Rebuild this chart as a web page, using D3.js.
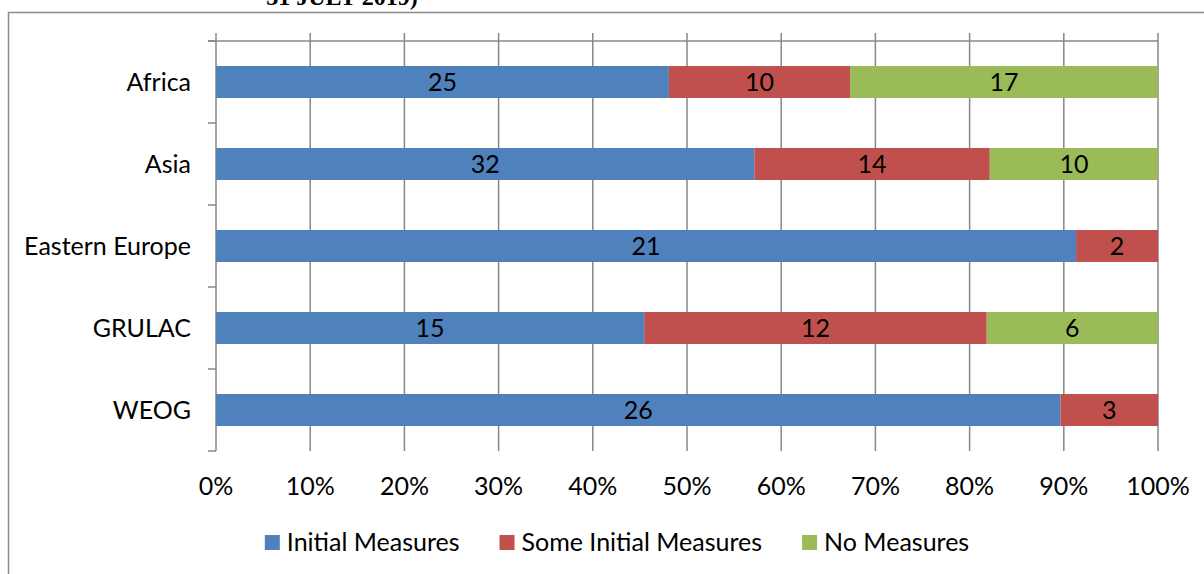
<!DOCTYPE html>
<html><head><meta charset="utf-8">
<script src="https://cdn.jsdelivr.net/npm/d3@7"></script>
<style>html,body{margin:0;padding:0;background:#fff;}svg{display:block;}</style>
</head><body>
<svg id="c" width="1204" height="574"></svg>
<script>
const categories = ["Africa","Asia","Eastern Europe","GRULAC","WEOG"];
const seriesNames = ["Initial Measures","Some Initial Measures","No Measures"];
const initialMeasures = [25,32,21,15,26];
const someInitialMeasures = [10,14,2,12,3];
const noMeasures = [17,10,0,6,0];
const xTicks = [0,0.1,0.2,0.3,0.4,0.5,0.6,0.7,0.8,0.9,1];
const titleText = "31 JULY 2019)";
const colors = ["#4F81BD","#C0504D","#9BBB59"];

const FONT = "Lato, 'Open Sans', sans-serif";
const FS = 25;
const svg = d3.select("#c");

// frame
svg.append("rect").attr("x",8.5).attr("y",12.5).attr("width",1230).attr("height",600)
  .attr("fill","none").attr("stroke","#8a8a8a").attr("stroke-width",1.5);

// title (cut off at top, as in the source)
svg.append("text").attr("x",342).attr("y",5).attr("text-anchor","middle")
  .attr("font-family","'Liberation Serif', 'Times New Roman', serif").attr("font-weight","bold")
  .attr("font-size",24).attr("fill","#000").text(titleText);

const x = d3.scaleLinear().domain([0,1]).range([216,1158]);
const y = d3.scaleBand().domain(categories).range([41,451]).paddingInner(0.61).paddingOuter(0.305);

const rows = categories.map((c,i)=>{
  const vals=[initialMeasures[i],someInitialMeasures[i],noMeasures[i]];
  const tot=d3.sum(vals); let acc=0;
  return vals.map((v,k)=>{const s={cat:c,k,v,x0:acc/tot,x1:(acc+v)/tot}; acc+=v; return s;});
}).flat();

// gridlines
const g = svg.append("g");
g.selectAll("line.grid").data(xTicks).join("line")
  .attr("x1",d=>x(d)).attr("x2",d=>x(d)).attr("y1",33).attr("y2",451)
  .attr("stroke","#878787").attr("stroke-width",1.5);
// top axis line
g.append("line").attr("x1",208).attr("x2",x(1)).attr("y1",41).attr("y2",41)
  .attr("stroke","#878787").attr("stroke-width",1.5);
// category ticks
const bounds = d3.range(categories.length+1).map(i=>41+i*y.step());
g.selectAll("line.ct").data(bounds).join("line")
  .attr("x1",208).attr("x2",216).attr("y1",d=>d).attr("y2",d=>d)
  .attr("stroke","#878787").attr("stroke-width",1.5);

// bars
svg.append("g").selectAll("rect").data(rows.filter(d=>d.v>0)).join("rect")
  .attr("x",d=>x(d.x0)).attr("width",d=>x(d.x1)-x(d.x0))
  .attr("y",d=>y(d.cat)).attr("height",y.bandwidth())
  .attr("fill",d=>colors[d.k]);

// data labels
svg.append("g").selectAll("text").data(rows.filter(d=>d.v>0)).join("text")
  .attr("x",d=>(x(d.x0)+x(d.x1))/2).attr("y",d=>y(d.cat)+y.bandwidth()/2+9)
  .attr("text-anchor","middle").attr("font-family",FONT).attr("font-size",FS).attr("fill","#000")
  .text(d=>d.v);

// category labels
svg.append("g").selectAll("text").data(categories).join("text")
  .attr("x",191).attr("y",d=>y(d)+y.bandwidth()/2+9).attr("text-anchor","end")
  .attr("font-family",FONT).attr("font-size",FS).attr("fill","#000").text(d=>d);

// x tick labels
svg.append("g").selectAll("text").data(xTicks).join("text")
  .attr("x",d=>x(d)).attr("y",495).attr("text-anchor","middle")
  .attr("font-family",FONT).attr("font-size",FS).attr("fill","#000")
  .text(d=>d3.format(".0%")(d));

// legend
const lg = svg.append("g");
let items = seriesNames.map((n,i)=>{
  const t = lg.append("text").attr("y",551).attr("font-family",FONT).attr("font-size",FS).attr("fill","#000").text(n);
  return {t,w:t.node().getComputedTextLength(),i};
});
const sq=15, gap1=7, gap2=40;
const total = d3.sum(items,d=>sq+gap1+d.w)+gap2*(items.length-1);
let cx = 617 - total/2;
items.forEach(it=>{
  lg.append("rect").attr("x",cx).attr("y",535).attr("width",sq).attr("height",sq).attr("fill",colors[it.i]);
  it.t.attr("x",cx+sq+gap1);
  cx += sq+gap1+it.w+gap2;
});
</script>
</body></html>
